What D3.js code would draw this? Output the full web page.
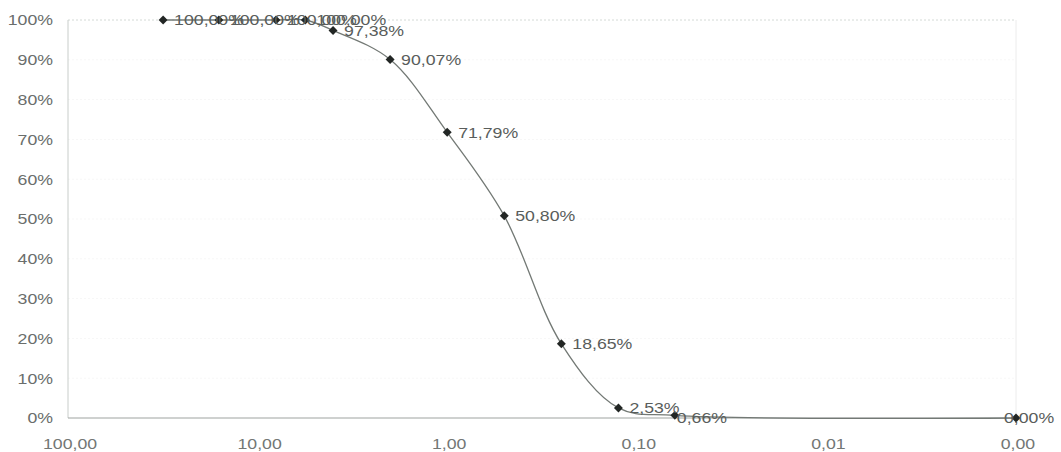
<!DOCTYPE html>
<html>
<head>
<meta charset="utf-8">
<script src="https://cdn.jsdelivr.net/npm/d3@7"></script>
<style>
  html, body { margin: 0; padding: 0; background: #ffffff; }
  svg { display: block; }
  text { font-family: "Liberation Sans", Arial, sans-serif; }
</style>
</head>
<body>
<svg id="chart" width="1061" height="452"></svg>
<script>
// Sieve sizes (mm) and cumulative percent passing
const sieveSizes = [31.5, 16, 8, 5.6, 4, 2, 1, 0.5, 0.25, 0.125, 0.063, 0.001];
const passing    = [100, 100, 100, 100, 97.38, 90.07, 71.79, 50.80, 18.65, 2.53, 0.66, 0.00];

// Axis ticks
const xTickValues = [100, 10, 1, 0.1, 0.01, 0.001];
const xTickLabels = ["100,00", "10,00", "1,00", "0,10", "0,01", "0,00"];
const yTickValues = [0, 10, 20, 30, 40, 50, 60, 70, 80, 90, 100];
const yTickLabels = ["0%", "10%", "20%", "30%", "40%", "50%", "60%", "70%", "80%", "90%", "100%"];

const plot = { left: 68, right: 1016, top: 20, bottom: 418 };
const stretch = 1.18; // horizontal glyph widening used for all text

const svg = d3.select("#chart");

const x = d3.scaleLog().domain([100, 0.001]).range([plot.left, plot.right]);
const y = d3.scaleLinear().domain([0, 100]).range([plot.bottom, plot.top]);

const fmtPct = v => v.toFixed(2).replace(".", ",") + "%";

// very faint horizontal gridlines
svg.append("g")
  .selectAll("line")
  .data(yTickValues.filter(v => v > 0))
  .join("line")
  .attr("x1", plot.left).attr("x2", plot.right)
  .attr("y1", d => y(d)).attr("y2", d => y(d))
  .attr("stroke", d => d === 100 ? "#d4dad6" : "#f7f7f7")
  .attr("stroke-width", 1)
  .attr("stroke-dasharray", "2,2");

// left and right frame lines
svg.append("line")
  .attr("x1", plot.left).attr("x2", plot.left)
  .attr("y1", plot.top).attr("y2", plot.bottom)
  .attr("stroke", "#c8cdca").attr("stroke-width", 1);
svg.append("line")
  .attr("x1", plot.right).attr("x2", plot.right)
  .attr("y1", plot.top).attr("y2", plot.bottom)
  .attr("stroke", "#ececec").attr("stroke-width", 1);

// bottom axis line
svg.append("line")
  .attr("x1", plot.left).attr("x2", plot.right)
  .attr("y1", plot.bottom).attr("y2", plot.bottom)
  .attr("stroke", "#9ea3a0").attr("stroke-width", 1);

// y tick labels
svg.append("g")
  .selectAll("g")
  .data(yTickValues)
  .join("g")
  .attr("transform", d => `translate(53,${y(d)})`)
  .append("text")
  .attr("transform", `scale(${stretch},1)`)
  .attr("text-anchor", "end")
  .attr("dominant-baseline", "central")
  .attr("font-size", 15)
  .attr("fill", "#6a6e6c")
  .text((d, i) => yTickLabels[i]);

// x tick labels
svg.append("g")
  .selectAll("g")
  .data(xTickValues)
  .join("g")
  .attr("transform", d => `translate(${x(d) + 2},444)`)
  .append("text")
  .attr("transform", `scale(${stretch},1)`)
  .attr("text-anchor", "middle")
  .attr("dominant-baseline", "central")
  .attr("font-size", 15)
  .attr("fill", "#737775")
  .text((d, i) => xTickLabels[i]);

const points = sieveSizes.map((s, i) => ({ s, v: passing[i] }));

// smoothed grading curve
const line = d3.line()
  .x(d => x(d.s))
  .y(d => y(d.v))
  .curve(d3.curveCatmullRom.alpha(0.5));

svg.append("path")
  .datum(points)
  .attr("d", line)
  .attr("fill", "none")
  .attr("stroke", "#737975")
  .attr("stroke-width", 1.3);

// diamond markers
svg.append("g")
  .selectAll("path")
  .data(points)
  .join("path")
  .attr("d", d3.symbol().type(d3.symbolSquare).size(40))
  .attr("transform", d => `translate(${x(d.s)},${y(d.v)}) rotate(45)`)
  .attr("fill", "#222624");

// data labels to the right of each marker
const labelShift = { 10: -9, 11: -23 };
const labels = svg.append("g")
  .selectAll("g")
  .data(points)
  .join("g")
  .attr("transform", (d, i) => `translate(${x(d.s) + 11 + (labelShift[i] || 0)},${y(d.v) + (i === 10 ? 2 : 0)})`);

labels.append("text")
  .attr("transform", `scale(${stretch},1)`)
  .attr("text-anchor", "start")
  .attr("dominant-baseline", "central")
  .attr("font-size", 15)
  .attr("fill", "#595d5b")
  .text(d => fmtPct(d.v));
</script>
</body>
</html>
